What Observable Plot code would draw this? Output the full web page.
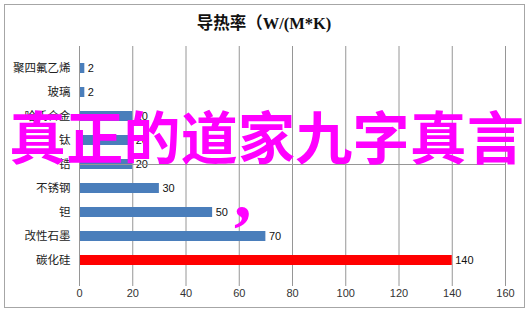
<!DOCTYPE html>
<html><head><meta charset="utf-8">
<script src="https://cdn.jsdelivr.net/npm/d3@7"></script>
<script src="https://cdn.jsdelivr.net/npm/@observablehq/plot@0.6"></script>
<style>
html,body{margin:0;padding:0;background:#fff;}
#wrap{position:relative;width:528px;height:315px;overflow:hidden;background:#fff;}
#frame{position:absolute;left:4px;top:4px;width:521px;height:304px;border:1px solid #a6a6a6;box-sizing:border-box;}
#title{position:absolute;left:0;top:14px;width:528px;text-align:center;font:bold 16.5px "Liberation Serif","Noto Sans CJK SC";color:#111;line-height:20px;}
#chart{position:absolute;left:0;top:0;}
#overlay{position:absolute;left:0;top:0;pointer-events:none;}
</style></head><body>
<div id="wrap"><div id="frame"></div><div id="title"></div><div id="chart"></div><svg id="overlay" width="528" height="315"></svg></div>
<script>
const categories = ["聚四氟乙烯","玻璃","哈氏合金","钛","锆","不锈钢","钽","改性石墨","碳化硅"];
const values = [2, 2, 20, 20, 20, 30, 50, 70, 140];
const highlight = "碳化硅";
const xTicks = [0, 20, 40, 60, 80, 100, 120, 140, 160];
const titleText = "导热率（W/(M*K)";
const watermarkText = "真正的道家九字真言";
const watermarkComma = ",";

const data = categories.map((c, i) => ({name: c, value: values[i]}));
const blue = "#4a7ebb", red = "#ff0000", gray = "#969696";

document.getElementById("title").textContent = titleText;

const plot = Plot.plot({
  width: 528, height: 315,
  marginLeft: 79, marginRight: 23, marginTop: 46, marginBottom: 33,
  style: {background: "transparent", fontFamily: "'Liberation Sans','Noto Sans CJK SC'", fontSize: "11px", color: "#222"},
  x: {domain: [0, 160], ticks: xTicks, label: null},
  y: {domain: categories, label: null, padding: 0.6},
  marks: [
    Plot.gridX(xTicks.slice(1), {stroke: gray, strokeOpacity: 1}),
    Plot.barX(data.filter(d => d.name !== highlight), {x: "value", y: "name", fill: blue}),
    Plot.barX(data.filter(d => d.name === highlight), {x: "value", y: "name", fill: red}),
    Plot.text(data, {x: "value", y: "name", text: d => String(d.value), textAnchor: "start", dx: 3, fill: "#111", fontSize: 11}),
    Plot.ruleX([0], {stroke: gray}),
    Plot.ruleY([0], {x1: 0, x2: 160, y: null, stroke: gray, frameAnchor: "bottom"}),
    Plot.axisX({ticks: xTicks, tickSize: 4, tickPadding: 3, stroke: gray, fill: "#333", label: null}),
    Plot.axisY({tickSize: 0, tickPadding: 9, fill: "#222", fontSize: 11.5, fontFamily: "'Noto Sans CJK SC'", label: null})
  ]
});
document.getElementById("chart").appendChild(plot);

const ov = d3.select("#overlay");
ov.append("text")
  .attr("x", 9).attr("y", 159)
  .attr("textLength", 515).attr("lengthAdjust", "spacing")
  .attr("font-family", "'Noto Sans CJK SC'").attr("font-weight", "bold")
  .attr("font-size", 57).attr("fill", "#ff00ff")
  .text(watermarkText);
ov.append("text")
  .attr("x", 234).attr("y", 217)
  .attr("font-family", "'Liberation Serif'").attr("font-weight", "bold")
  .attr("font-size", 70).attr("fill", "#ff00ff")
  .text(watermarkComma);
</script>
</body></html>
